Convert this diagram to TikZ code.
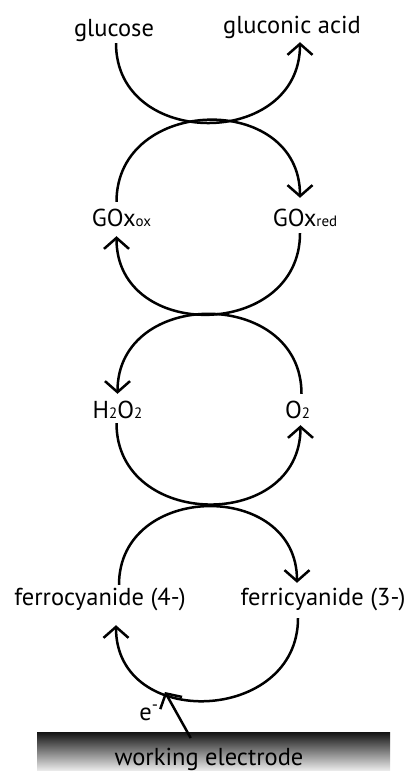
\documentclass[tikz,border=0pt]{standalone}
\usepackage{fontspec}
\setmainfont{PT Sans}
\usetikzlibrary{arrows.meta}
\tikzset{
  lbl/.style={font=\fontsize{24.5}{24.5}\selectfont, inner sep=0pt, text height=24pt, text depth=7pt},
  cyc/.style={line width=2.5pt, looseness=1.48,
    -{Straight Barb[length=11pt, width=25pt, line width=2.5pt]}},
}
\newcommand{\sbsc}[1]{{\fontsize{15}{15}\selectfont #1}}

\begin{document}
\begin{tikzpicture}[x=1pt, y=1pt]
\useasboundingbox (0,0) rectangle (413,-771);
% electrode at the bottom, cut by the page edge
\node[top color=black!92, bottom color=black!6, shading=axis, minimum width=353pt,
  minimum height=39pt, inner sep=0pt, anchor=north west] (elec) at (37,-732) {};
\node[lbl, anchor=base] (wel) at (209,-765) {working electrode};
% species
\node[lbl, anchor=base] (glc) at (114,-36) {glucose};
\node[lbl, anchor=base] (gla) at (292,-33) {gluconic acid};
\node[lbl, anchor=base] (goxo) at (121.5,-226) {GOx\sbsc{ox}};
\node[lbl, anchor=base] (goxr) at (305,-226) {GOx\sbsc{red}};
\node[lbl, anchor=base] (hpo) at (117.5,-418) {H\sbsc{2}O\sbsc{2}};
\node[lbl, anchor=base] (oxy) at (297.5,-418) {O\sbsc{2}};
\node[lbl, anchor=base] (ferro) at (100,-605) {ferrocyanide (4-)};
\node[lbl, anchor=base] (ferri) at (323,-605) {ferricyanide (3-)};
\node[lbl, anchor=base] (elab) at (149,-720) {e\textsuperscript{-}};
% the cycles, each half drawn from label to label
\draw[cyc] ([xshift=2pt]glc.south) to[out=-90, in=-90] ([xshift=8pt, yshift=-2pt]gla.south);
\draw[cyc] ([xshift=-5pt]goxo.north) to[out=90, in=90] ([xshift=-5pt, yshift=4pt]goxr.north);
\draw[cyc] ([xshift=-5pt]goxr.south) to[out=-90, in=-90] ([xshift=-5pt, yshift=-3pt]goxo.south);
\draw[cyc] ([xshift=4pt]oxy.north) to[out=90, in=90] ([xshift=0pt]hpo.north);
\draw[cyc] ([xshift=-1pt, yshift=2pt]hpo.south) to[out=-90, in=-90] ([xshift=3pt]oxy.south);
\draw[cyc] ([xshift=19pt, yshift=-4pt]ferro.north) to[out=90, in=90] ([xshift=-26pt, yshift=-2pt]ferri.north);
\draw[cyc] ([xshift=-25pt, yshift=-6pt]ferri.south) to[out=-90, in=-90] ([xshift=16pt, yshift=-13pt]ferro.south);
% electron from the electrode
\coordinate (etip) at (165,-692);
\draw[cyc] ([xshift=-23pt, yshift=-6pt]elec.north) -- (etip);
\end{tikzpicture}
\end{document}
